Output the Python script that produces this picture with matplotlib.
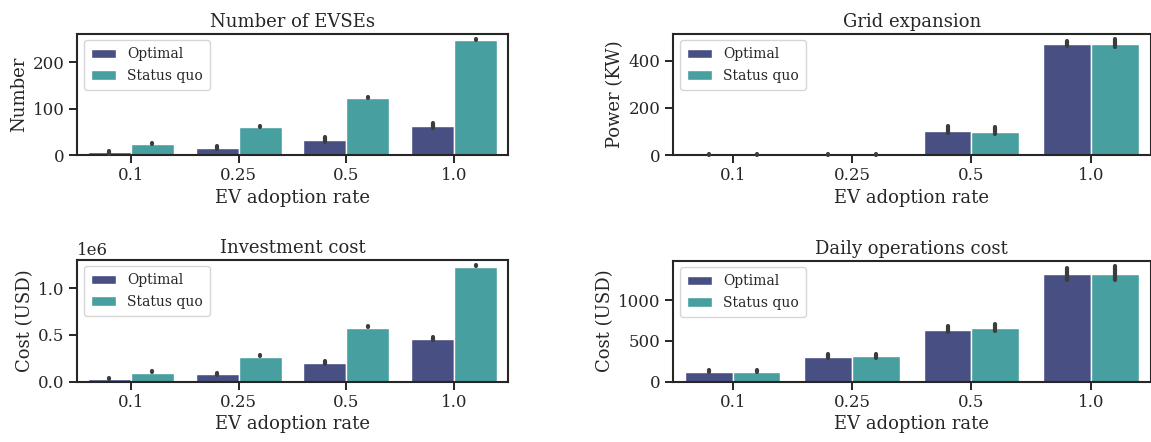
import numpy as np
import matplotlib
matplotlib.use("Agg")
import matplotlib.pyplot as plt

plt.rcParams["font.family"] = ["DejaVu Serif"]

rates = ["0.1", "0.25", "0.5", "1.0"]
groups = ["Optimal", "Status quo"]

# Number of EVSEs
evse_opt = [6, 15, 32, 62]
evse_opt_lo = [3, 13, 29, 58]
evse_opt_hi = [8, 19, 39, 69]
evse_sq = [23, 61, 123, 248]
evse_sq_lo = [24, 61, 124, 249]
evse_sq_hi = [25, 62, 125, 250]

# Grid expansion (KW)
grid_opt = [0, 0, 103, 468]
grid_opt_lo = [0, 0, 95, 460]
grid_opt_hi = [3, 3, 122, 483]
grid_sq = [0, 0, 99, 471]
grid_sq_lo = [0, 0, 91, 457]
grid_sq_hi = [3, 3, 117, 490]

# Investment cost (USD)
inv_opt = [0.029e6, 0.076e6, 0.198e6, 0.452e6]
inv_opt_lo = [0.025e6, 0.075e6, 0.19e6, 0.445e6]
inv_opt_hi = [0.04e6, 0.095e6, 0.225e6, 0.48e6]
inv_sq = [0.094e6, 0.267e6, 0.578e6, 1.228e6]
inv_sq_lo = [0.105e6, 0.275e6, 0.583e6, 1.237e6]
inv_sq_hi = [0.11e6, 0.28e6, 0.59e6, 1.245e6]

# Daily operations cost (USD)
ops_opt = [115, 307, 640, 1320]
ops_opt_lo = [112, 290, 605, 1255]
ops_opt_hi = [140, 335, 685, 1400]
ops_sq = [115, 310, 655, 1320]
ops_sq_lo = [112, 295, 620, 1250]
ops_sq_hi = [140, 340, 705, 1420]

colors = ["#484f82", "#489f9f"]
ink = "#262626"

W, H = 1151, 442
fig = plt.figure(figsize=(W / 100, H / 100), dpi=100)


def box(l, r, t, b):
    return [l / W, 1 - b / H, (r - l) / W, (b - t) / H]


panels = [
    (box(77, 508, 33.5, 155), "Number of EVSEs", "Number",
     [(evse_opt, evse_opt_lo, evse_opt_hi), (evse_sq, evse_sq_lo, evse_sq_hi)]),
    (box(673, 1150.5, 33.5, 155), "Grid expansion", "Power (KW)",
     [(grid_opt, grid_opt_lo, grid_opt_hi), (grid_sq, grid_sq_lo, grid_sq_hi)]),
    (box(77, 508, 259.5, 381.5), "Investment cost", "Cost (USD)",
     [(inv_opt, inv_opt_lo, inv_opt_hi), (inv_sq, inv_sq_lo, inv_sq_hi)]),
    (box(673, 1150.5, 260.5, 381.5), "Daily operations cost", "Cost (USD)",
     [(ops_opt, ops_opt_lo, ops_opt_hi), (ops_sq, ops_sq_lo, ops_sq_hi)]),
]

x = np.arange(len(rates))
w = 0.4
for rect, title, ylabel, series in panels:
    ax = fig.add_axes(rect)
    for i, (vals, lo, hi) in enumerate(series):
        pos = x + (i - 0.5) * w
        ax.bar(pos, vals, width=w, color=colors[i], edgecolor="white",
               linewidth=1.0, label=groups[i], zorder=2)
        ax.vlines(pos, lo, hi, color="#3c3c3c", linewidth=3.0,
                  capstyle="round", zorder=4, clip_on=False)
    ax.set_xlim(-0.5, len(rates) - 0.5)
    ax.set_ylim(bottom=0)
    ax.set_xticks(x)
    ax.set_xticklabels(rates)
    ax.set_title(title, fontsize=13, color=ink, pad=5)
    ax.set_xlabel("EV adoption rate", fontsize=13, color=ink, labelpad=3)
    ax.set_ylabel(ylabel, fontsize=13, color=ink, labelpad=3)
    ax.tick_params(labelsize=12, colors=ink, length=6, width=1.4, pad=3)
    ax.yaxis.get_offset_text().set_fontsize(12)
    ax.yaxis.get_offset_text().set_color(ink)
    for s in ax.spines.values():
        s.set_linewidth(1.5)
        s.set_color(ink)
        s.set_zorder(3)
    leg = ax.legend(loc="upper left", fontsize=10, handlelength=1.8,
                    borderpad=0.5, labelspacing=0.55)
    leg.get_frame().set_edgecolor("#cccccc")
    leg.set_zorder(5)
    for t in leg.get_texts():
        t.set_color(ink)

fig.savefig("out.png", dpi=100)
